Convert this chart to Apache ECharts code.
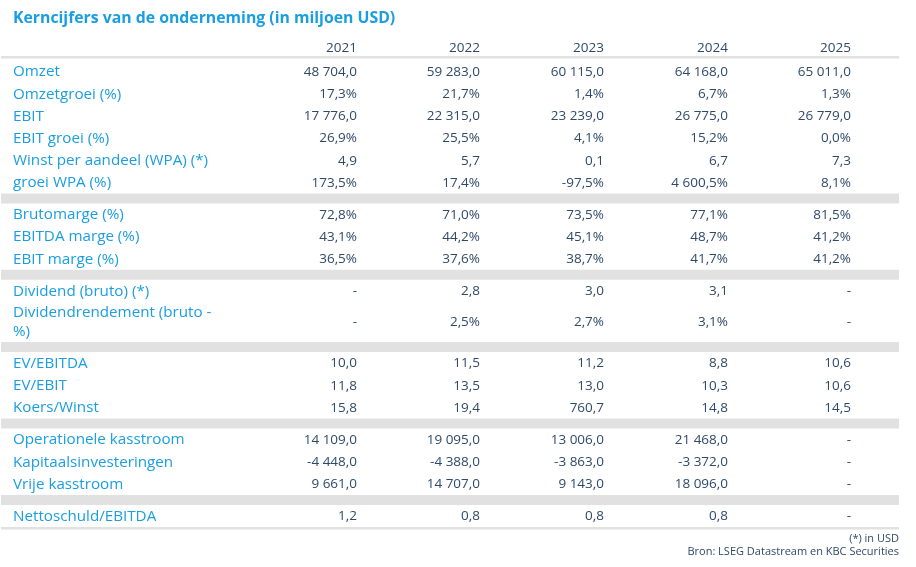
<!DOCTYPE html>
<html>
<head>
<meta charset="utf-8">
<script src="https://cdn.jsdelivr.net/npm/echarts@6/dist/echarts.min.js"></script>
<style>
  html, body { margin: 0; padding: 0; background: #fff; }
  #chart { width: 916px; height: 567px; }
</style>
</head>
<body>
<div id="chart"></div>
<script>
// kolommen
var years = ['2021', '2022', '2023', '2024', '2025'];

// rijen (null = '-'), kind: n = getal, p = percentage
var omzet = [48704.0, 59283.0, 60115.0, 64168.0, 65011.0];
var omzetGroei = [17.3, 21.7, 1.4, 6.7, 1.3];
var ebit = [17776.0, 22315.0, 23239.0, 26775.0, 26779.0];
var ebitGroei = [26.9, 25.5, 4.1, 15.2, 0.0];
var wpa = [4.9, 5.7, 0.1, 6.7, 7.3];
var wpaGroei = [173.5, 17.4, -97.5, 4600.5, 8.1];
var brutomarge = [72.8, 71.0, 73.5, 77.1, 81.5];
var ebitdaMarge = [43.1, 44.2, 45.1, 48.7, 41.2];
var ebitMarge = [36.5, 37.6, 38.7, 41.7, 41.2];
var dividend = [null, 2.8, 3.0, 3.1, null];
var divRendement = [null, 2.5, 2.7, 3.1, null];
var evEbitda = [10.0, 11.5, 11.2, 8.8, 10.6];
var evEbit = [11.8, 13.5, 13.0, 10.3, 10.6];
var koersWinst = [15.8, 19.4, 760.7, 14.8, 14.5];
var opKasstroom = [14109.0, 19095.0, 13006.0, 21468.0, null];
var kapInvest = [-4448.0, -4388.0, -3863.0, -3372.0, null];
var vrijeKasstroom = [9661.0, 14707.0, 9143.0, 18096.0, null];
var nettoschuld = [1.2, 0.8, 0.8, 0.8, null];

var groups = [
  [['Omzet', omzet, 'n'], ['Omzetgroei (%)', omzetGroei, 'p'], ['EBIT', ebit, 'n'],
   ['EBIT groei (%)', ebitGroei, 'p'], ['Winst per aandeel (WPA) (*)', wpa, 'n'], ['groei WPA (%)', wpaGroei, 'p']],
  [['Brutomarge (%)', brutomarge, 'p'], ['EBITDA marge (%)', ebitdaMarge, 'p'], ['EBIT marge (%)', ebitMarge, 'p']],
  [['Dividend (bruto) (*)', dividend, 'n'], ['Dividendrendement (bruto -\n%)', divRendement, 'p']],
  [['EV/EBITDA', evEbitda, 'n'], ['EV/EBIT', evEbit, 'n'], ['Koers/Winst', koersWinst, 'n']],
  [['Operationele kasstroom', opKasstroom, 'n'], ['Kapitaalsinvesteringen', kapInvest, 'n'], ['Vrije kasstroom', vrijeKasstroom, 'n']],
  [['Nettoschuld/EBITDA', nettoschuld, 'n']]
];

var title = 'Kerncijfers van de onderneming (in miljoen USD)';
var notes = ['(*) in USD', 'Bron: LSEG Datastream en KBC Securities'];

function fmt(v, kind) {
  if (v === null) return '-';
  var s = Math.abs(v).toFixed(1).split('.');
  var intPart = s[0].replace(/\B(?=(\d{3})+(?!\d))/g, ' ');
  return (v < 0 ? '-' : '') + intPart + ',' + s[1] + (kind === 'p' ? '%' : '');
}

var FONT = '"Open Sans", "Noto Sans", sans-serif';
var BLUE = '#1a9ee2';
var NAVY = '#2f4a69';
var GREY = '#e1e1e1';
var colRight = [357, 480, 604, 728, 851];
var left = 1, right = 899, labelX = 13;
var rowH = 22.15, rowH2 = 40, band = 10;

var els = [];
function text(x, y, s, color, align, size, weight) {
  els.push({
    type: 'text', x: x, y: y + 1, silent: true,
    style: {
      text: s, fill: color, align: align, verticalAlign: 'middle',
      font: (weight || 'normal') + ' ' + size + 'px ' + FONT, lineHeight: 19
    }
  });
}
function rect(y, h) {
  els.push({ type: 'rect', silent: true, shape: { x: left, y: y, width: right - left, height: h }, style: { fill: GREY } });
}

text(labelX, 17, title, BLUE, 'left', 15.8, 'bold');
years.forEach(function (yr, i) { text(colRight[i], 47, yr, NAVY, 'right', 13.5); });
rect(56, 2.5);

var y = 60;
groups.forEach(function (g, gi) {
  g.forEach(function (row) {
    var h = row[0].indexOf('\n') >= 0 ? rowH2 : rowH;
    var c = y + h / 2;
    text(labelX, c, row[0], BLUE, 'left', 15.2);
    row[1].forEach(function (v, i) { text(colRight[i], c, fmt(v, row[2]), NAVY, 'right', 13.5); });
    y += h;
  });
  if (gi < groups.length - 1) {
    rect(y + 0.5, band);
    y += band;
  } else {
    rect(y + 0.5, 2.5);
  }
});

text(right, 538, notes[0], NAVY, 'right', 11);
text(right, 551, notes[1], NAVY, 'right', 11);

var chart = echarts.init(document.getElementById('chart'), null, { renderer: 'canvas' });
chart.setOption({
  backgroundColor: '#fff',
  animation: false,
  graphic: { elements: els }
});
</script>
</body>
</html>
